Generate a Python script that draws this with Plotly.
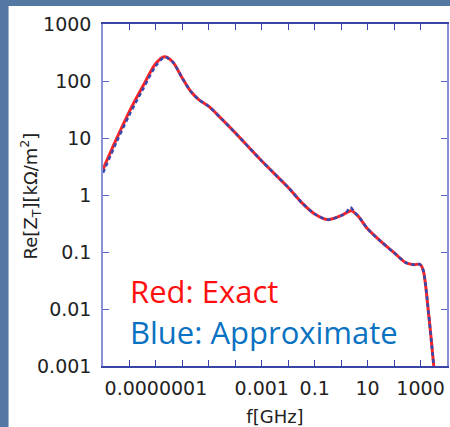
import plotly.graph_objects as go

# data (log10 values)
log_f_exact = [-9.0, -8.5, -8.0, -7.5, -7.0, -6.68, -6.37, -6.0, -5.68, -5.37, -5.0, -4.49, -4.0,
               -3.0, -2.0, -1.5, -1.0, -0.5, 0.0, 0.375, 0.625, 1.0, 1.5, 2.0, 2.44, 2.75, 2.975,
               3.1, 3.31, 3.5, 3.6]
log_z_exact = [0.45, 0.974, 1.467, 1.902, 2.31, 2.425, 2.338, 2.049, 1.815, 1.67, 1.554, 1.322, 1.09,
               0.596, 0.132, -0.129, -0.333, -0.432, -0.362, -0.275, -0.362, -0.594, -0.815, -1.012,
               -1.187, -1.222, -1.216, -1.32, -2.105, -3.0, -3.47]

log_f_approx = [-9.0, -8.5, -8.0, -7.5, -7.0, -6.66, -6.37, -6.0, -5.68, -5.37, -5.0, -4.49, -4.0,
                -3.0, -2.0, -1.5, -1.0, -0.5, 0.0, 0.2, 0.35, 0.5, 0.7, 1.0, 1.5, 2.0, 2.44, 2.75,
                2.975, 3.1, 3.31, 3.5, 3.6]
log_z_approx = [0.39, 0.92, 1.41, 1.85, 2.27, 2.42, 2.338, 2.049, 1.815, 1.67, 1.554, 1.322, 1.09,
                0.596, 0.132, -0.129, -0.333, -0.432, -0.362, -0.3, -0.216, -0.3, -0.4, -0.594,
                -0.815, -1.012, -1.187, -1.222, -1.216, -1.32, -2.105, -3.0, -3.47]

x_minor_decades = list(range(-9, 5))
x_label_decades = [-7, -3, -1, 1, 3]
x_ticklabels = ["0.0000001", "0.001", "0.1", "10", "1000"]
y_tickvals = [-3, -2, -1, 0, 1, 2, 3]
y_ticklabels = ["0.001", "0.01", "0.1", "1", "10", "100", "1000"]

f_exact = [10 ** v for v in log_f_exact]
z_exact = [10 ** v for v in log_z_exact]
f_approx = [10 ** v for v in log_f_approx]
z_approx = [10 ** v for v in log_z_approx]

fig = go.Figure()
fig.add_trace(go.Scatter(x=f_exact, y=z_exact, mode="lines",
                         line=dict(color="#ff2424", width=3, shape="spline", smoothing=0.8),
                         showlegend=False))
fig.add_trace(go.Scatter(x=f_approx, y=z_approx, mode="lines",
                         line=dict(color="#3a48ad", width=2.6, dash="4px,3px", shape="spline", smoothing=0.8),
                         showlegend=False))

L, R, T, B = 103, 1, 24, 59
W, H = 450, 427
pw, ph = W - L - R, H - T - B

def px2x(p):
    return (p - L) / pw

def py2y(p):
    return (H - B - p) / ph

fig.add_shape(type="rect", xref="paper", yref="paper", layer="below",
              x0=px2x(8), x1=px2x(460), y0=py2y(440), y1=py2y(6),
              fillcolor="white", line=dict(width=0))

fig.add_annotation(xref="paper", yref="paper", x=px2x(128), y=py2y(293), xanchor="left", yanchor="middle",
                   text="Red: Exact", showarrow=False,
                   font=dict(family="Open Sans", size=31, color="#ff1010"))
fig.add_annotation(xref="paper", yref="paper", x=px2x(128), y=py2y(334), xanchor="left", yanchor="middle",
                   text="Blue: Approximate", showarrow=False,
                   font=dict(family="Open Sans", size=31, color="#0a72c2"))
fig.add_annotation(xref="paper", yref="paper", x=px2x(30), y=py2y(197), xanchor="center", yanchor="middle",
                   text="Re[Z<sub>T</sub>][kΩ/m<sup>2</sup>]", textangle=-90, showarrow=False,
                   font=dict(family="DejaVu Sans", size=18, color="#222"))

fig.update_xaxes(type="log", range=[-9, 4],
                 tickmode="array", tickvals=[10 ** v for v in x_label_decades], ticktext=x_ticklabels,
                 ticks="inside", ticklen=6, tickwidth=1.3, tickcolor="#3a44a6",
                 minor=dict(tickmode="array", tickvals=[10 ** v for v in x_minor_decades],
                            ticks="inside", ticklen=6, tickwidth=1.3, tickcolor="#3a44a6", showgrid=False),
                 showline=True, linecolor="#3a44a6", linewidth=1.5, mirror="ticks",
                 showgrid=False, zeroline=False, ticklabelstandoff=4,
                 tickfont=dict(family="DejaVu Sans", size=19, color="#222"),
                 title=dict(text="f[GHz]", font=dict(family="DejaVu Sans", size=18, color="#222"), standoff=15))
fig.update_yaxes(type="log", range=[-3, 3], tickvals=[10 ** v for v in y_tickvals], ticktext=y_ticklabels,
                 ticks="inside", ticklen=6, tickwidth=1.3, tickcolor="#5a64c0",
                 showline=True, linecolor="#8a90d6", linewidth=1.5, mirror="ticks",
                 showgrid=False, zeroline=False, ticklabelstandoff=6,
                 tickfont=dict(family="DejaVu Sans", size=19, color="#222"))

fig.update_layout(width=W, height=H, margin=dict(l=L, r=R, t=T, b=B),
                  paper_bgcolor="#5478a2", plot_bgcolor="white")

fig.write_html("out.html")
